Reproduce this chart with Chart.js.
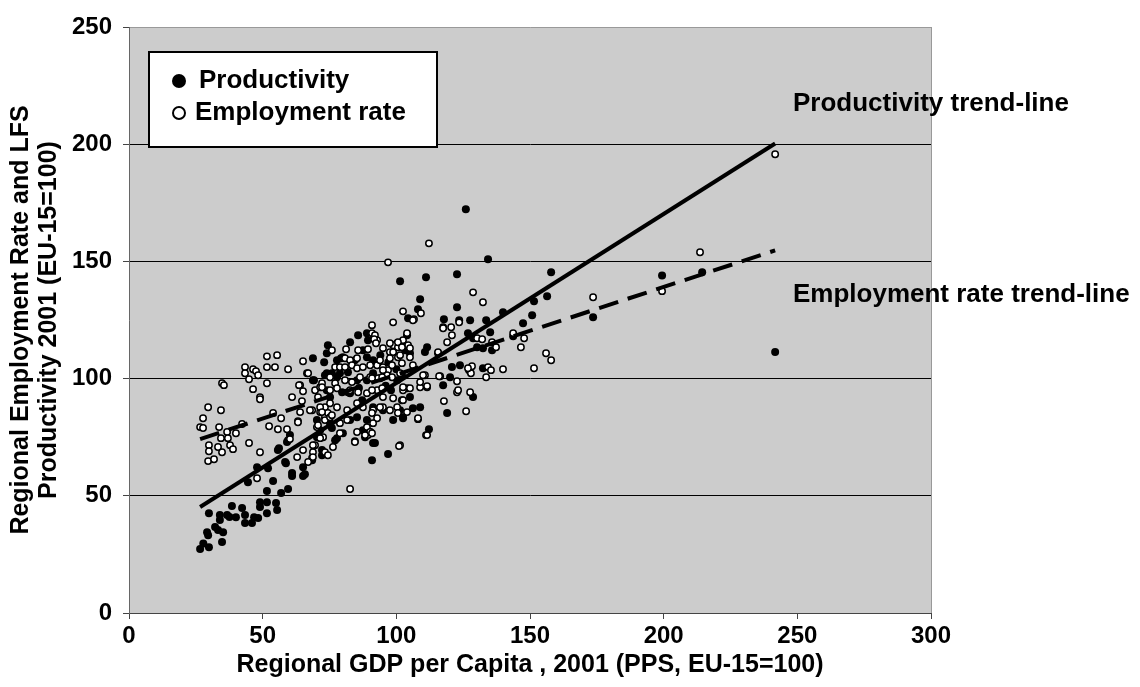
<!DOCTYPE html>
<html>
<head>
<meta charset="utf-8">
<script src="https://cdn.jsdelivr.net/npm/chart.js@4.4.1/dist/chart.umd.min.js"></script>
<style>
  body { margin: 0; background: #fff; }
  canvas { display: block; }
</style>
</head>
<body>
<canvas id="chart" width="1140" height="687"></canvas>
<script>
// regional GDP per capita (x) vs productivity (y), EU-15=100
const productivity = [
  [26.6,27.3],[27.8,29.7],[29.9,28.1],[29.9,42.6],[29.2,34.5],[29.6,33.2],[32.2,36.7],[34,41.8],[34,39.7],[37.6,41],
  [33.3,35.4],[35.2,34.5],[34.8,30.3],[36.7,41.8],[38.5,45.6],[40,40.9],[42.3,44.8],[43.4,41.8],[43.4,38.4],[46,38.4],
  [46.8,40.9],[48.3,40.5],[49,47.3],[51.6,47.3],[49,45.2],[51.6,42.6],[55,46.9],[55.4,43.9],[51.6,52],[53.9,56.3],
  [56.9,51.2],[59.5,52.9],[44.5,55.8],[47.9,62.2],[52,61.8],[55.7,69.5],[58.7,63.9],[61,58.4],[65.1,58.4],[59.1,72.9],
  [65.1,62.2],[68.5,66.1],[72.2,67.3],[68.8,108.7],[73,107],[74,110.8],[66.6,102.3],[74,102.3],[69.2,99.3],[74.4,114.2],
  [70.3,82.3],[71.5,78],[101.4,141.5],[82.7,115.5],[85.7,118.5],[89,119.4],[89.4,116.4],[104.4,125.7],[87.5,112.1],[89,109.1],
  [91.3,107.8],[77.8,100.6],[74,95],[75.2,92],[91.3,72.5],[101.4,86.5],[102.5,83.5],[98.8,82.3],[59.5,73.7],[56.1,70.3],
  [126,172.2],[134.3,150.9],[111.1,143.2],[122.7,144.5],[108.9,133.8],[108.1,129.6],[122.7,130.4],[117.8,125.3],[123.5,124.9],[127.6,124.9],
  [133.6,124.9],[139.9,128.3],[147.4,123.6],[126.8,119.4],[135.1,119.8],[130.2,113.4],[132.4,113],[135.8,112.1],[111.5,113.4],[110.7,111.3],
  [115.6,110.8],[120.8,104.9],[123.8,105.7],[132.4,104.4],[120.1,100.6],[117.5,97.2],[128.7,92.1],[119,85.3],[112.2,78.4],[96.9,67.8],
  [90.9,65.2],[108.9,87.8],[106.2,87.4],[102.5,83.1],[104,118.5],[103.3,112.1],[105.1,110.8],[77.8,107.8],[80,109.1],[84.5,107.8],
  [78.9,102.3],[81.9,102.7],[85.3,99.3],[89,99.3],[91.3,102.3],[93.9,100.2],[100.3,99.3],[102.1,101.4],[102.1,90.8],[105.1,92.1],
  [104,95.9],[95,86.5],[91.3,87.8],[75.2,81],[77.1,73.7],[80,76.7],[82.7,82.3],[87.5,78],[88.3,75],[79.7,94.2],
  [82.7,93.8],[87.2,90.8],[157.9,145.4],[199.4,144],[156.4,135.1],[151.5,133],[150.8,127],[143.7,118.1],[173.6,126.2],[214.4,145.4],
  [241.7,111.3],[79.3,108.7],[68.8,99.3],[73.3,101.4],[75.9,102.3],[81.9,94.2],[77.8,74.6],[75.9,78.9],[85.3,83.5],[89,82.3],
  [90.2,77.2],[92,72.5],[58.4,64.4],[61,59.7],[65.8,59.2],[68.5,65.2],[72.6,68.2],[70.3,75],[72.2,69.5],[60.2,75.9],
  [128.7,117.2],[100.3,115.1],[97,107],[100,104],[96,97],[94,110],[86,96],[98,95]
];

// regional GDP per capita (x) vs employment rate (y), EU-15=100
const employmentRate = [
  [51.6,109.5],[55.4,110],[43.4,104.9],[46.4,104],[47.5,103.2],[48.3,101.4],[43.4,102.3],[51.6,104.9],[54.6,104.9],[59.5,104],
  [44.9,99.7],[51.6,98],[34.8,98],[35.5,97.2],[46.4,95.5],[49,92.1],[49,91.2],[29.6,87.8],[34.4,86.5],[27.7,83.1],
  [26.6,79.3],[27.7,78.9],[33.7,79.3],[36.7,77.2],[40,76.7],[42.3,80.6],[34.4,74.6],[37,74.6],[37.8,71.6],[38.9,69.9],
  [34.8,68.6],[33.3,70.8],[29.9,71.6],[29.9,69],[29.6,64.8],[31.8,65.6],[44.9,72.5],[49,68.6],[52.4,79.7],[55.7,78.4],
  [59.1,78.4],[53.9,85.3],[56.9,83.1],[47.9,57.5],[60.2,74.2],[62.9,66.5],[65.1,69.5],[67,64.4],[68.8,68.6],[68.8,66.5],
  [61,92.1],[64,97.2],[65.1,94.6],[63.2,81.8],[64,85.7],[65.1,107.4],[67,102.3],[69.6,95],[71.5,96.3],[72.2,98],
  [70.7,92.1],[73.3,87.8],[71.5,85.7],[73.3,83.5],[74.4,85.3],[70.3,79.3],[72.6,75],[69.6,71.6],[64.7,90.4],[68.5,86.5],
  [96.9,149.6],[102.5,128.7],[98.8,124],[90.9,122.8],[75.9,112.1],[81.2,112.5],[80.8,108.7],[82.7,107.8],[85.3,108.7],[85.7,112.1],
  [89.4,112.5],[90.9,119.4],[92,118.5],[92.8,116.4],[95,113],[97.6,111.3],[98.8,114.2],[100.6,113.4],[102.5,116.4],[104.4,114.2],
  [104,119.4],[77.1,104.9],[78.9,104.9],[80.8,104.9],[83.4,105.7],[85.3,104.4],[87.5,104.9],[90.2,105.7],[92.8,105.7],[95,104.9],
  [96.9,103.6],[98.4,105.7],[100.6,109.1],[75.2,100.6],[77.1,98],[80.8,99.3],[83.4,98.5],[86.4,100.6],[90.2,100.6],[93.2,100.2],
  [96.5,101.4],[98.4,100.6],[101.4,102.3],[72.2,96.3],[75.2,95],[77.8,95.9],[82.7,95],[85.7,94.2],[89,93.8],[92.8,95],
  [95,92.1],[98.8,91.6],[102.5,95],[102.5,90.8],[71.5,87.8],[75.2,89.5],[77.8,87.8],[81.6,86.5],[85.3,89.5],[87.5,87.8],
  [91.3,86.5],[95,87.8],[100.3,87.8],[100.6,85.3],[104,85.7],[70.7,80.1],[73.3,82.3],[75.2,83.5],[78.9,81],[81.6,82.3],
  [85.3,77.2],[89,79.3],[89.4,75.9],[90.2,77.2],[92.8,83.1],[71.5,74.6],[76.3,70.8],[78.9,76.7],[84.5,73.3],[101.4,71.6],
  [112.2,157.7],[128.7,136.8],[132.4,132.6],[109.2,127.9],[106.6,125.3],[117.5,121.9],[120.5,121.9],[123.5,124],[120.8,118.5],[119,115.5],
  [130.2,117.2],[132.1,116.8],[135.8,115.5],[137.3,113.4],[143.7,119.4],[147.8,117.2],[146.6,113.4],[116.4,101],[110.7,101.4],[108.9,96.3],
  [111.5,96.3],[122.7,98.9],[122.7,94.2],[127.2,103.6],[127.9,102.3],[128.3,105.3],[134.3,104.9],[135.4,103.6],[133.6,100.6],[139.9,104],
  [127.6,94.2],[117.8,90.4],[126.1,86.1],[108.1,82.7],[111.1,75.9],[101,71.2],[82.7,52.9],[173.6,134.7],[199.4,137.3],[156,110.8],
  [157.9,107.8],[151.5,104.4],[213.6,153.9],[241.7,195.7],[91.7,116.8],[92.4,115.1],[63.6,97.2],[67.7,86.5],[72.2,85.7],[75.9,84.4],
  [63.2,81.4],[84.5,72.9],[88.3,75.9],[68.8,71.6],[73.3,68.6],[74.4,67.3],[106.2,124.9],[117.5,121.5],[115.6,111.3],[110,101.4],
  [108.9,98.5],[111.5,96.8],[116,101],[123.1,95],[126.8,104.4],[108.1,83.1],[111.5,75.9],[97.6,115.1],[100.6,115.5],[105.1,113],
  [102.1,113.4],[98.8,111.3],[97.6,108.7],[101.4,110],[105.1,109.1],[93.9,107.8],[95,103.6],[102.1,106.6],[106.2,105.7],[90.9,100.2],
  [94.7,100.6],[102.5,96.3],[105.1,95.9],[94.7,95.9],[90.9,95],[93.9,87.8],[97.6,86.5],[90.9,85.3],[91.3,81],[90.9,76.7]
];

// trend lines (end points)
const trendX = [26.6, 241.7];
const productivityTrend = [45.2, 200.3];
const employmentTrend = [74.2, 154.7];

const xTicks = [0, 50, 100, 150, 200, 250, 300];
const yTicks = [0, 50, 100, 150, 200, 250];

const FONT = "'Liberation Sans', Arial, sans-serif";
Chart.defaults.font.family = FONT;
Chart.defaults.color = '#000';

const toPts = (arr) => arr.map(p => ({ x: p[0], y: p[1] }));

const plotBg = {
  id: 'plotBg',
  beforeDraw(chart) {
    const { ctx, chartArea: a } = chart;
    ctx.save();
    ctx.fillStyle = '#cccccc';
    ctx.fillRect(a.left, a.top, a.right - a.left, a.bottom - a.top);
    ctx.restore();
  },
  afterDraw(chart) {
    const { ctx, chartArea: a } = chart;
    ctx.save();
    // right border
    ctx.strokeStyle = '#999';
    ctx.lineWidth = 1;
    ctx.beginPath();
    ctx.moveTo(a.right + 0.5, a.top);
    ctx.lineTo(a.right + 0.5, a.bottom);
    ctx.stroke();

    // legend box
    ctx.fillStyle = '#fff';
    ctx.fillRect(149, 52, 288, 95);
    ctx.strokeStyle = '#000';
    ctx.lineWidth = 2;
    ctx.strokeRect(149, 52, 288, 95);
    ctx.fillStyle = '#000';
    ctx.beginPath();
    ctx.arc(179, 81, 7, 0, Math.PI * 2);
    ctx.fill();
    ctx.fillStyle = '#fff';
    ctx.beginPath();
    ctx.arc(179, 113, 6, 0, Math.PI * 2);
    ctx.fill();
    ctx.stroke();
    ctx.fillStyle = '#000';
    ctx.font = 'bold 26px ' + FONT;
    ctx.textBaseline = 'alphabetic';
    ctx.textAlign = 'left';
    ctx.fillText('Productivity', 199, 88);
    ctx.fillText('Employment rate', 195, 120);

    // trend-line labels
    ctx.fillText('Productivity trend-line', 793, 111);
    ctx.fillText('Employment rate trend-line', 793, 302);
    ctx.restore();
  }
};

new Chart('chart', {
  type: 'scatter',
  data: {
    datasets: [
      {
        label: 'Productivity trend-line',
        type: 'line',
        data: trendX.map((x, i) => ({ x: x, y: productivityTrend[i] })),
        borderColor: '#000',
        borderWidth: 4,
        pointRadius: 0,
        fill: false,
        order: 0
      },
      {
        label: 'Employment rate trend-line',
        type: 'line',
        data: trendX.map((x, i) => ({ x: x, y: employmentTrend[i] })),
        borderColor: '#000',
        borderWidth: 4,
        borderDash: [20, 10],
        pointRadius: 0,
        fill: false,
        order: 0
      },
      {
        label: 'Employment rate',
        data: toPts(employmentRate),
        backgroundColor: '#fff',
        borderColor: '#000',
        borderWidth: 1.5,
        pointRadius: 3.2,
        order: 1
      },
      {
        label: 'Productivity',
        data: toPts(productivity),
        backgroundColor: '#000',
        borderColor: '#000',
        borderWidth: 0,
        pointRadius: 4,
        order: 2
      }
    ]
  },
  options: {
    responsive: false,
    animation: false,
    devicePixelRatio: 1,
    layout: { padding: { top: 27, right: 209, left: 0, bottom: 0 } },
    plugins: {
      legend: { display: false },
      tooltip: { enabled: false }
    },
    scales: {
      x: {
        type: 'linear',
        min: 0, max: 300,
        afterBuildTicks: (s) => { s.ticks = xTicks.map(v => ({ value: v })); },
        afterFit: (s) => { s.height = 74; },
        ticks: { font: { size: 24, weight: 'bold' }, padding: 3, maxRotation: 0 },
        grid: { drawOnChartArea: false, tickLength: 6, tickColor: '#444' },
        border: { color: '#444', width: 1 },
        title: {
          display: true,
          text: 'Regional GDP per Capita , 2001 (PPS, EU-15=100)',
          font: { size: 25, weight: 'bold', lineHeight: 1.12 },
          padding: { top: 0, bottom: 8 }
        }
      },
      y: {
        type: 'linear',
        min: 0, max: 250,
        afterBuildTicks: (s) => { s.ticks = yTicks.map(v => ({ value: v })); },
        afterFit: (s) => { s.width = 129; },
        ticks: { font: { size: 24, weight: 'bold' }, padding: 11 },
        grid: {
          tickLength: 6,
          tickColor: '#444',
          lineWidth: 1,
          color: (c) => (c.tick && c.tick.value === 250) ? '#999' : '#000'
        },
        border: { color: '#666', width: 1 },
        title: {
          display: true,
          text: ['Regional Employment Rate and LFS', 'Productivity 2001 (EU-15=100)'],
          font: { size: 25, weight: 'bold', lineHeight: 1.12 },
          padding: { top: 7, bottom: 0 }
        }
      }
    }
  },
  plugins: [plotBg]
});
</script>
</body>
</html>
